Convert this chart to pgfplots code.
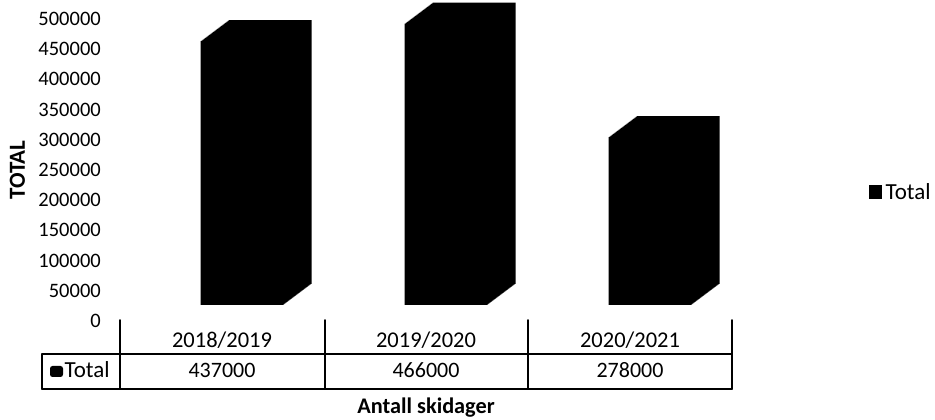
\documentclass[border=0pt]{standalone}
\usepackage{fontspec}
\setmainfont{Carlito}
\usepackage{pgfplots}
\usepackage{pgfplotstable}
\pgfplotsset{compat=1.18}
\pgfplotstableread{
x v
0 437000
1 466000
2 278000
}\skidata
\begin{document}
\begin{tikzpicture}[x=1pt,y=1pt]
\useasboundingbox (0,0) rectangle (935,420);
\begin{axis}[
  at={(120pt,115pt)}, anchor=south west,
  scale only axis, width=612pt, height=332.2pt,
  xmin=-0.5, xmax=2.5, ymin=0, ymax=550000,
  clip=false,
  axis line style={draw=none},
  major tick length=0pt,
  xtick=\empty,
  ytick={0,50000,...,500000},
  scaled y ticks=false,
  /pgf/number format/fixed,
  /pgf/number format/precision=0,
  /pgf/number format/set thousands separator={},
  /pgf/number format/assume math mode=true,
  yticklabel style={font=\fontsize{20.5}{21}\selectfont, inner sep=0pt, anchor=east, xshift=-19pt, yshift=-16pt},
  legend style={at={(rel axis cs:1.224,0.34)}, anchor=west, draw=none, fill=none, inner sep=0pt,
    font=\fontsize{23}{24}\selectfont},
  legend cell align=left,
]
\pgfplotsinvokeforeach{0,...,28}{
  \addplot[ybar, forget plot, bar width=83pt, bar shift=20pt, fill=black, draw=none,
    xshift=#1pt, yshift={0.75*#1pt}] table[x=x,y=v]{\skidata};
}
\addlegendimage{legend image code/.code={\fill[black] (0pt,-6pt) rectangle (12pt,7pt);}}
\addlegendentry{\hspace{2pt}Total}
\end{axis}
% data table
\begin{scope}[line width=1.6pt, line cap=round]
\foreach \xx in {120,325,528,732} \draw (\xx,100) -- (\xx,31);
\draw (42,66) -- (42,31);
\draw (42,66) -- (732,66);
\draw (42,31) -- (732,31);
\end{scope}
\fill[rounded corners=2.5pt] (50,43) rectangle (63,54);
\node[anchor=base west, inner sep=0pt, font=\fontsize{23}{24}\selectfont] at (64.5,42.5) {Total};
\foreach \cx/\lab/\val in {222/2018\slash 2019/437000, 426/2019\slash 2020/466000, 630/2020\slash 2021/278000}{
  \node[anchor=base, inner sep=0pt, font=\fontsize{22.5}{23}\selectfont] at (\cx,72) {\lab};
  \node[anchor=base, inner sep=0pt, font=\fontsize{22}{23}\selectfont] at (\cx,42.5) {\val};
}
\node[rotate=90, inner sep=0pt, font=\bfseries\fontsize{23}{24}\selectfont] at (17.5,250) {TOTAL};
\node[anchor=base, inner sep=0pt, font=\bfseries\fontsize{22.3}{23}\selectfont] at (426,6.7) {Antall skidager};
\end{tikzpicture}
\end{document}
